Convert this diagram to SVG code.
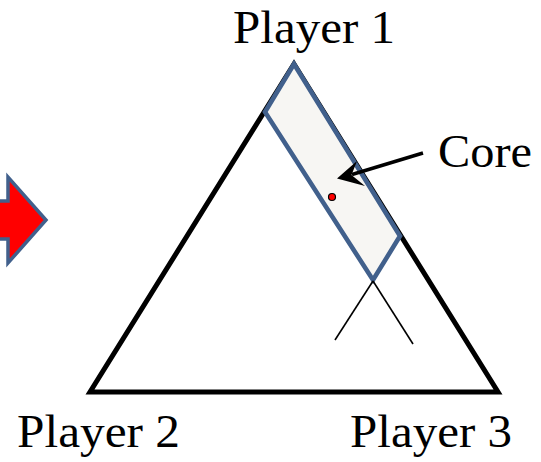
<svg xmlns="http://www.w3.org/2000/svg" width="541" height="462" viewBox="0 0 541 462">
<style>
.lbl{font-family:"Liberation Serif","Times New Roman",serif;font-size:46px;fill:#000}
.edge{fill:none;stroke:#000;stroke-linejoin:miter}
</style>
<rect width="541" height="462" fill="#fff"/>
<g id="red-arrow">
<polygon points="-10,201 8,201 8,177 46,220 8,263 8,239 -10,239" fill="#ff0000" stroke="#41608c" stroke-width="3.5" stroke-linejoin="miter"/>
</g>
<g id="triangle">
<polygon class="edge" points="294,64 498,392 90,392" stroke-width="5"/>
</g>
<g id="core-band">
<polygon points="294,64 400,236 373,280 265,112" fill="#f7f6f3" stroke="#41608c" stroke-width="4.6" stroke-linejoin="miter"/>
<circle cx="332" cy="197" r="3.5" fill="#ff0000" stroke="#000" stroke-width="1.2"/>
</g>
<g id="connectors">
<line x1="373" y1="281" x2="335" y2="340" stroke="#000" stroke-width="1.6"/>
<line x1="373" y1="281" x2="413" y2="344" stroke="#000" stroke-width="1.6"/>
<line x1="423" y1="153" x2="352" y2="174.5" stroke="#000" stroke-width="3.5"/>
<path d="M337,178.5 L357,161 L351.5,175 L365,186 Z" fill="#000"/>
</g>
<g id="labels">
<text class="lbl" x="233" y="43" textLength="162" lengthAdjust="spacingAndGlyphs">Player 1</text>
<text class="lbl" x="438" y="167" textLength="94" lengthAdjust="spacingAndGlyphs">Core</text>
<text class="lbl" x="17" y="447" textLength="163" lengthAdjust="spacingAndGlyphs">Player 2</text>
<text class="lbl" x="350" y="447" textLength="162" lengthAdjust="spacingAndGlyphs">Player 3</text>
</g>
</svg>
